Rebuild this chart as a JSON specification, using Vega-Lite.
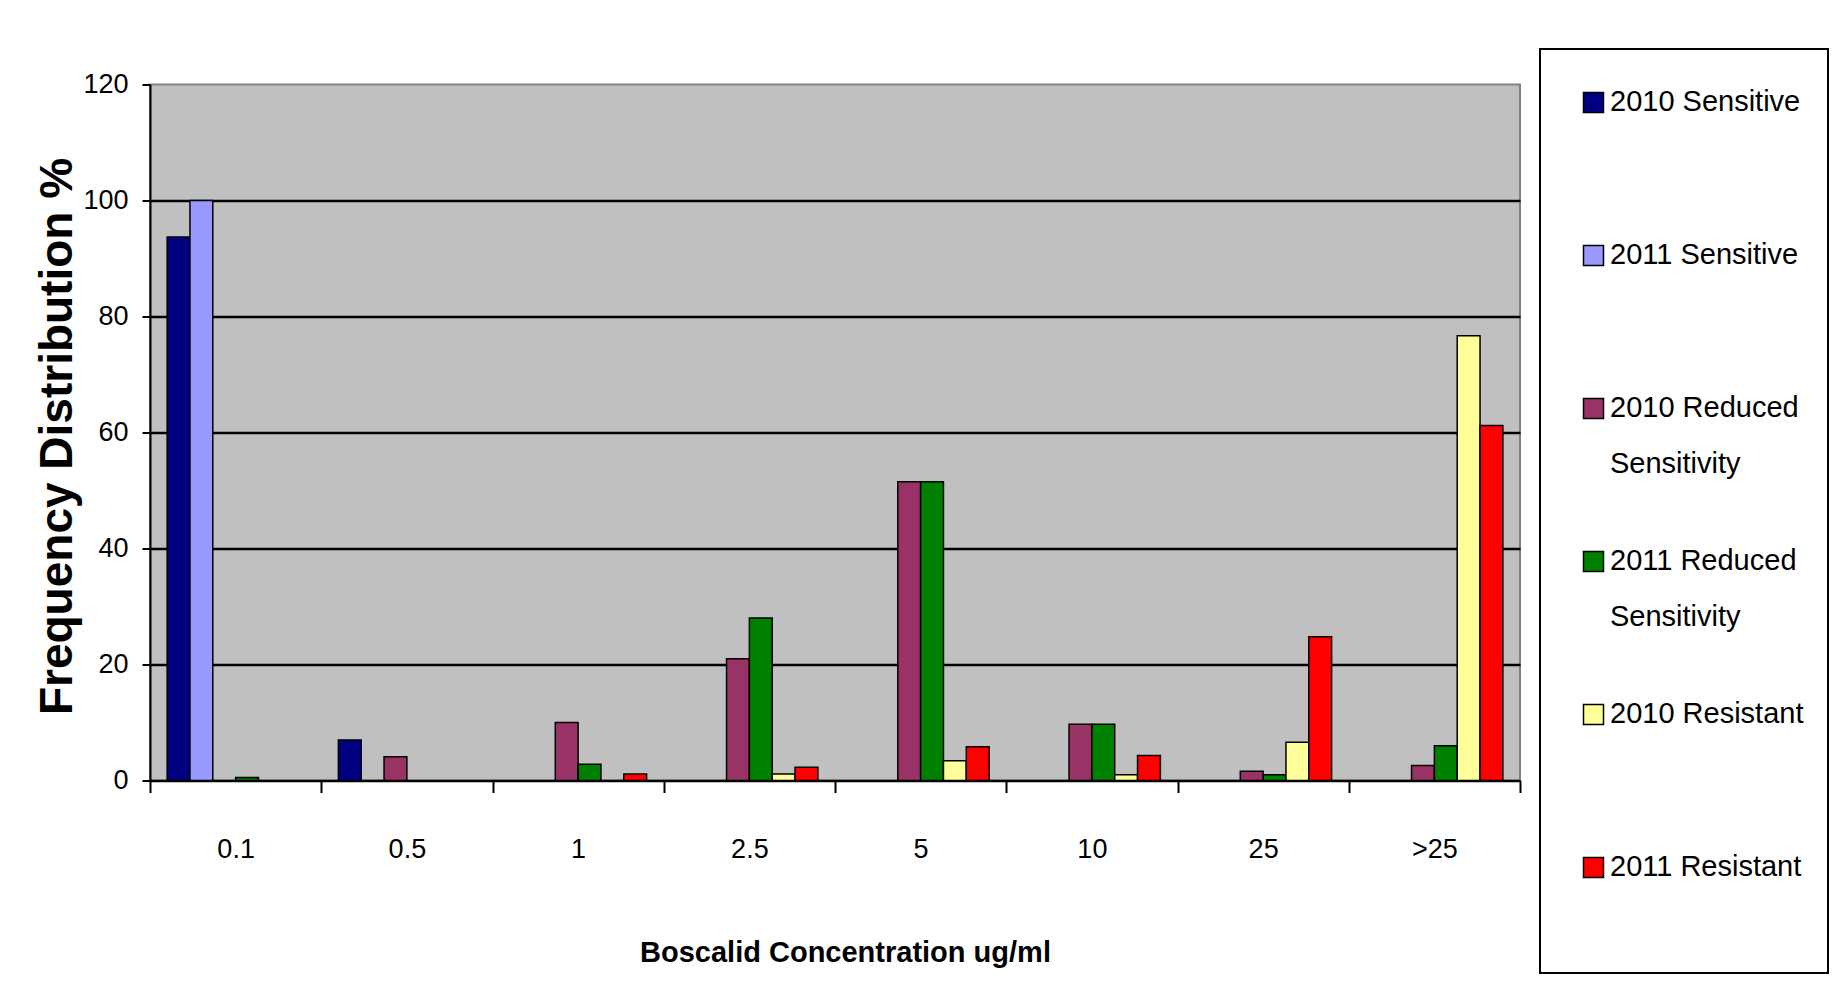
{
  "$schema": "https://vega.github.io/schema/vega-lite/v6.json",
  "width": 1370,
  "height": 696,
  "autosize": {"type": "none"},
  "padding": {"left": 150, "top": 84.5, "right": 321, "bottom": 219.5},
  "background": "white",
  "data": {
    "values": [
      {"conc": "0.1", "series": "2010 Sensitive", "pct": 93.7},
      {"conc": "0.1", "series": "2011 Sensitive", "pct": 100},
      {"conc": "0.1", "series": "2011 Reduced Sensitivity", "pct": 0.5},
      {"conc": "0.5", "series": "2010 Sensitive", "pct": 7.0},
      {"conc": "0.5", "series": "2010 Reduced Sensitivity", "pct": 4.1},
      {"conc": "1", "series": "2010 Reduced Sensitivity", "pct": 10},
      {"conc": "1", "series": "2011 Reduced Sensitivity", "pct": 2.8},
      {"conc": "1", "series": "2011 Resistant", "pct": 1.1},
      {"conc": "2.5", "series": "2010 Reduced Sensitivity", "pct": 21},
      {"conc": "2.5", "series": "2011 Reduced Sensitivity", "pct": 28},
      {"conc": "2.5", "series": "2010 Resistant", "pct": 1.1},
      {"conc": "2.5", "series": "2011 Resistant", "pct": 2.3},
      {"conc": "5", "series": "2010 Reduced Sensitivity", "pct": 51.5},
      {"conc": "5", "series": "2011 Reduced Sensitivity", "pct": 51.5},
      {"conc": "5", "series": "2010 Resistant", "pct": 3.4},
      {"conc": "5", "series": "2011 Resistant", "pct": 5.8},
      {"conc": "10", "series": "2010 Reduced Sensitivity", "pct": 9.7},
      {"conc": "10", "series": "2011 Reduced Sensitivity", "pct": 9.7},
      {"conc": "10", "series": "2010 Resistant", "pct": 1.0},
      {"conc": "10", "series": "2011 Resistant", "pct": 4.3},
      {"conc": "25", "series": "2010 Reduced Sensitivity", "pct": 1.6},
      {"conc": "25", "series": "2011 Reduced Sensitivity", "pct": 1.0},
      {"conc": "25", "series": "2010 Resistant", "pct": 6.6},
      {"conc": "25", "series": "2011 Resistant", "pct": 24.8},
      {"conc": ">25", "series": "2010 Reduced Sensitivity", "pct": 2.6},
      {"conc": ">25", "series": "2011 Reduced Sensitivity", "pct": 6.0},
      {"conc": ">25", "series": "2010 Resistant", "pct": 76.7},
      {"conc": ">25", "series": "2011 Resistant", "pct": 61.2}
    ]
  },
  "mark": {"type": "bar", "stroke": "black", "strokeWidth": 1.5},
  "encoding": {
    "x": {
      "field": "conc",
      "type": "nominal",
      "sort": ["0.1", "0.5", "1", "2.5", "5", "10", "25", ">25"],
      "scale": {"paddingInner": 0, "paddingOuter": 0},
      "axis": {
        "title": "Boscalid Concentration ug/ml",
        "labelAngle": 0,
        "tickBand": "extent",
        "tickSize": 12,
        "tickColor": "black",
        "tickWidth": 2,
        "domainColor": "black",
        "domainWidth": 2,
        "grid": false,
        "labelFont": "Liberation Sans",
        "labelFontSize": 27,
        "labelColor": "black",
        "labelPadding": 44,
        "titleFont": "Liberation Sans",
        "titleFontWeight": "bold",
        "titleFontSize": 29,
        "titleColor": "black",
        "titleX": 695,
        "titleY": 172,
        "titleBaseline": "middle",
        "titleAlign": "center"
      }
    },
    "xOffset": {
      "field": "series",
      "type": "nominal",
      "scale": {
        "domain": ["2010 Sensitive", "2011 Sensitive", "2010 Reduced Sensitivity", "2011 Reduced Sensitivity", "2010 Resistant", "2011 Resistant"],
        "paddingInner": 0,
        "paddingOuter": 0.75
      }
    },
    "y": {
      "field": "pct",
      "type": "quantitative",
      "scale": {"domain": [0, 120], "nice": false},
      "axis": {
        "values": [0, 20, 40, 60, 80, 100, 120],
        "title": "Frequency Distribution %",
        "grid": true,
        "gridColor": "black",
        "gridWidth": 2.5,
        "gridOpacity": {"condition": {"test": "datum.value >= 120", "value": 0}, "value": 1},
        "tickSize": 8,
        "tickColor": "black",
        "tickWidth": 2,
        "domainColor": "black",
        "domainWidth": 2,
        "labelFont": "Liberation Sans",
        "labelFontSize": 27,
        "labelColor": "black",
        "labelPadding": 14,
        "titleFont": "Liberation Sans",
        "titleFontWeight": "bold",
        "titleFontSize": 46,
        "titleColor": "black",
        "titleAngle": 270,
        "titleX": -93,
        "titleY": 351.5,
        "titleBaseline": "middle",
        "titleAlign": "center"
      }
    },
    "color": {
      "field": "series",
      "type": "nominal",
      "scale": {
        "domain": ["2010 Sensitive", "2011 Sensitive", "2010 Reduced Sensitivity", "2011 Reduced Sensitivity", "2010 Resistant", "2011 Resistant"],
        "range": ["#000080", "#9999FF", "#993366", "#008000", "#FFFF99", "#FF0000"]
      },
      "legend": {
        "orient": "none",
        "legendX": 1390,
        "legendY": -35.5,
        "direction": "vertical",
        "columns": 1,
        "title": " ",
        "titleOrient": "bottom",
        "titleFontSize": 30,
        "titlePadding": 37,
        "strokeColor": "black",
        "fillColor": "white",
        "padding": 24,
        "labelFont": "Liberation Sans",
        "labelFontSize": 29,
        "labelColor": "black",
        "labelBaseline": "top",
        "labelOffset": 2,
        "symbolOffset": 15,
        "labelLimit": 400,
        "labelExpr": "datum.label == '2010 Reduced Sensitivity' ? ['2010 Reduced', 'Sensitivity'] : datum.label == '2011 Reduced Sensitivity' ? ['2011 Reduced', 'Sensitivity'] : datum.label",
        "symbolType": "M-1,0.5H1V2.5H-1Z",
        "symbolSize": 400,
        "symbolStrokeColor": "black",
        "symbolStrokeWidth": 1.5,
        "symbolOpacity": 1,
        "rowPadding": 53,
        "gridAlign": "all"
      }
    }
  },
  "config": {
    "view": {"fill": "#C0C0C0", "stroke": "#808080", "strokeWidth": 2},
    "legend": {"strokeWidth": 2},
    "style": {"guide-label": {"lineHeight": 56}}
  }
}
